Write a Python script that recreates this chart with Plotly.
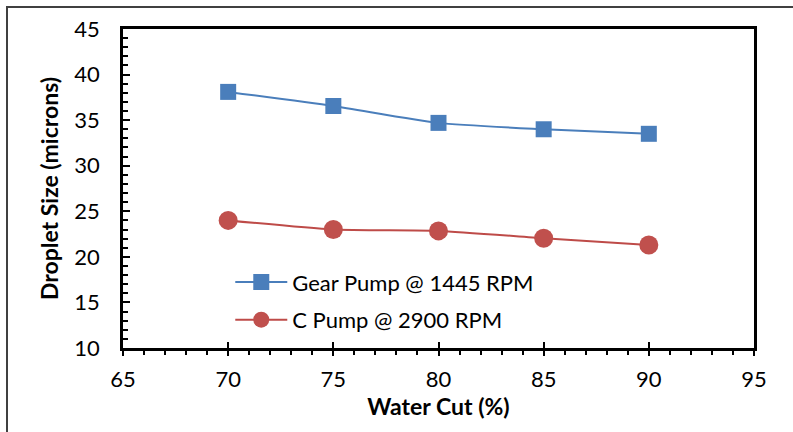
import plotly.graph_objects as go

water_cut = [70, 75, 80, 85, 90]
gear_pump = [38.1, 36.55, 34.7, 34.0, 33.5]
c_pump = [24.0, 23.0, 22.85, 22.05, 21.3]
gear_name = "Gear Pump @ 1445 RPM"
c_name = "C Pump @ 2900 RPM"

FONT = "Lato"
W, H = 793, 432
L, R, T, B = 123, 39, 29, 84

fig = go.Figure()
fig.add_trace(go.Scatter(
    x=water_cut, y=gear_pump, name=gear_name, mode="lines+markers",
    line=dict(color="#4A7EBB", width=2, shape="spline", smoothing=0.6),
    marker=dict(symbol="square", size=16, color="#4A7EBB"),
    legendgroup="g1"))
fig.add_trace(go.Scatter(
    x=water_cut, y=c_pump, name=c_name, mode="lines+markers",
    line=dict(color="#BE4B48", width=2, shape="spline", smoothing=0.6),
    marker=dict(symbol="circle", size=19, color="#C0504D"),
    legendgroup="g2"))
# helper trace for inner part of crossing x major ticks
fig.add_trace(go.Scatter(x=[65, 95], y=[None, None], xaxis="x2", showlegend=False,
                         hoverinfo="skip"))

pw = W - L - R
ph = H - T - B
fig.update_layout(
    width=W, height=H,
    margin=dict(l=L, r=R, t=T, b=B),
    paper_bgcolor="white", plot_bgcolor="white",
    font=dict(family=FONT, color="black"),
    showlegend=True,
    legend=dict(x=0.17, y=0.272, xanchor="left", yanchor="top",
                font=dict(size=22, family=FONT), bgcolor="rgba(0,0,0,0)",
                traceorder="grouped", tracegroupgap=6, itemwidth=52),
    xaxis=dict(range=[65, 95], dtick=5, tick0=65, showgrid=False, zeroline=False,
               showline=True, linecolor="black", linewidth=2.5, mirror=True,
               ticks="outside", ticklen=5, tickwidth=1.5, tickcolor="black",
               minor=dict(dtick=1, ticks="outside", ticklen=4, tickwidth=1.5, tickcolor="black"),
               tickfont=dict(size=22, family=FONT), ticklabelstandoff=5,
               title=dict(text="<b>Water Cut (%)</b>", font=dict(size=23, family=FONT), standoff=4)),
    xaxis2=dict(range=[65, 95], dtick=5, tick0=65, overlaying="x", anchor="y", side="bottom",
                showgrid=False, zeroline=False, showline=False, showticklabels=False,
                ticks="inside", ticklen=6, tickwidth=1.5, tickcolor="black"),
    yaxis=dict(range=[10, 45], dtick=5, tick0=10, showgrid=False, zeroline=False,
               showline=True, linecolor="black", linewidth=2.5, mirror=True,
               ticks="inside", ticklen=7, tickwidth=1.5, tickcolor="black",
               minor=dict(dtick=1, ticks="inside", ticklen=5, tickwidth=1.5, tickcolor="black"),
               tickfont=dict(size=22, family=FONT), ticklabelstandoff=16,
               title=dict(text="<b>Droplet Size (microns)</b>", font=dict(size=23, family=FONT), standoff=10)),
)
# outer frame of the picture
fig.add_shape(type="rect", xref="paper", yref="paper",
              x0=(7 - L) / pw, x1=(W + 10 - L) / pw,
              y0=-(H + 10 - (T + ph)) / ph, y1=1 + (T - 7) / ph,
              line=dict(color="#404040", width=2), layer="below")

fig.write_html("out.html", config={"displayModeBar": False},
               post_script="document.body.style.margin='0';document.body.style.overflow='hidden';")
